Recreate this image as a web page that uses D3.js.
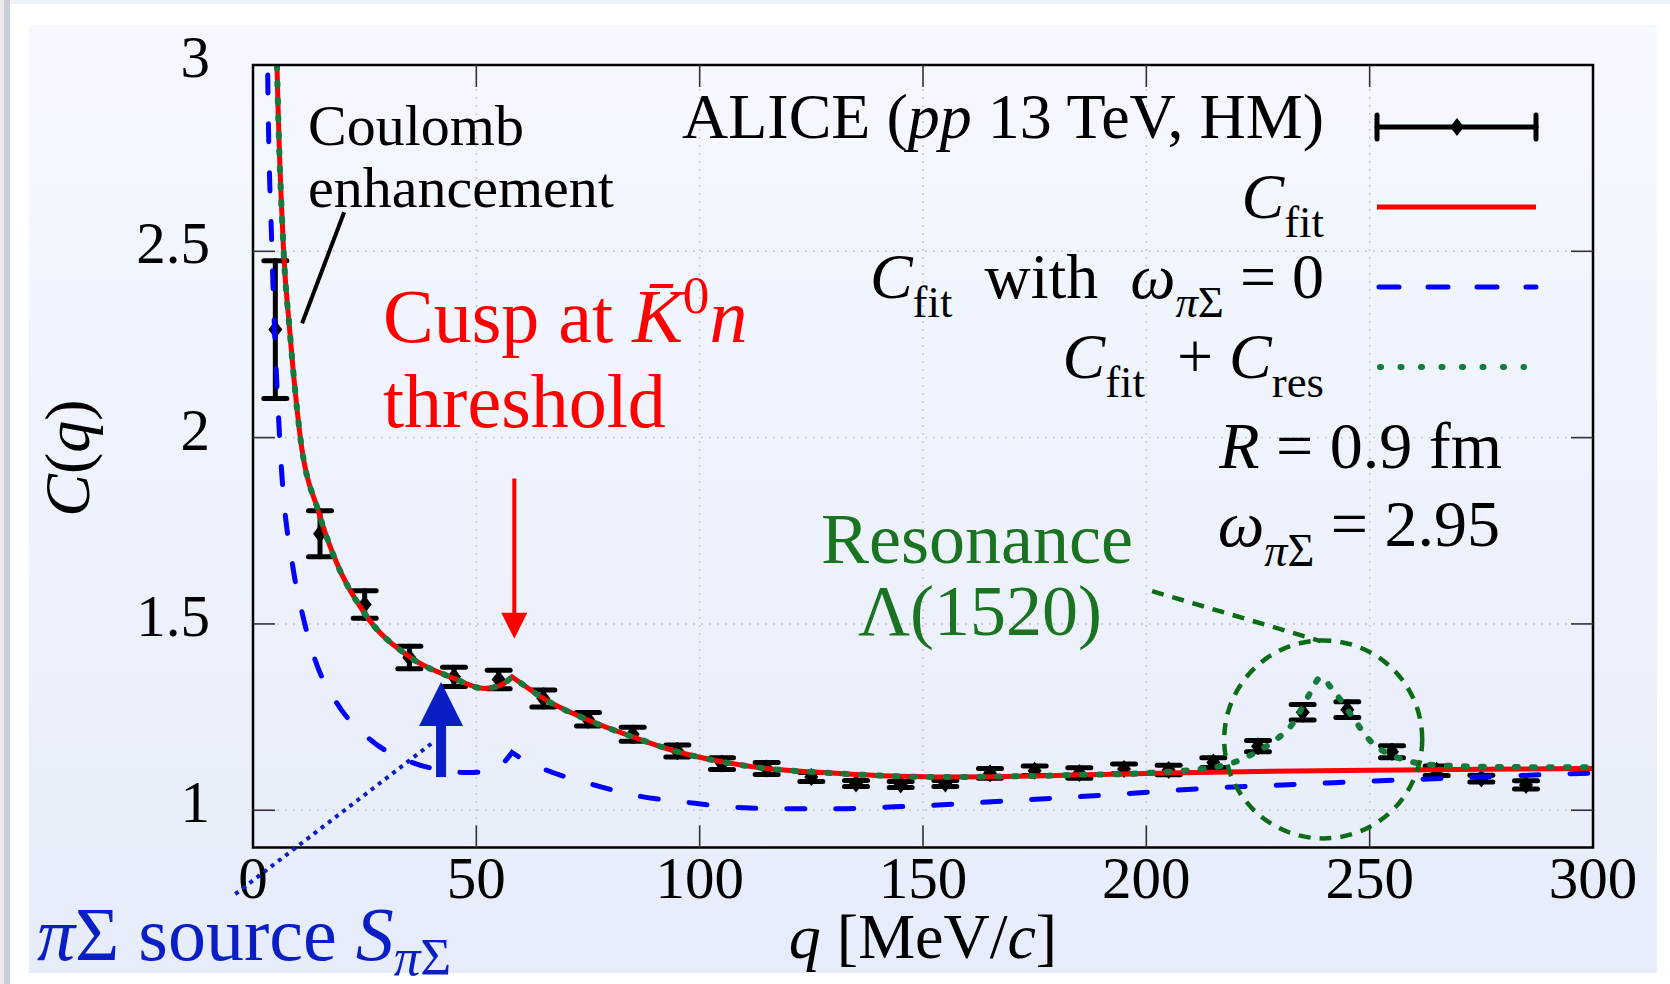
<!DOCTYPE html>
<html>
<head>
<meta charset="utf-8">
<script src="https://cdn.jsdelivr.net/npm/d3@7"></script>
<style>
  html, body { margin: 0; padding: 0; background: #fff; }
  svg { display: block; font-family: "Liberation Serif", "Times New Roman", serif; }
</style>
</head>
<body>
<div id="chart"></div>
<script>
// ALICE K-p correlation, high multiplicity pp 13 TeV
const qBins = [5, 15, 25, 35, 45, 55, 65, 75, 85, 95, 105, 115, 125, 135, 145,
  155, 165, 175, 185, 195, 205, 215, 225, 235, 245, 255, 265, 275, 285];
const cData = [2.29, 1.742, 1.552, 1.41, 1.358, 1.351, 1.30, 1.244, 1.204, 1.159,
  1.125, 1.112, 1.089, 1.072, 1.069, 1.072, 1.099, 1.106, 1.10, 1.111, 1.108,
  1.128, 1.172, 1.263, 1.27, 1.157, 1.106, 1.085, 1.068];
const cErr = [0.185, 0.062, 0.037, 0.030, 0.026, 0.025, 0.023, 0.018, 0.019, 0.016,
  0.016, 0.016, 0.012, 0.008, 0.008, 0.008, 0.013, 0.013, 0.014, 0.013, 0.013,
  0.013, 0.015, 0.021, 0.021, 0.016, 0.013, 0.009, 0.011];

// C_fit (a repeated q marks the cusp corner)
const fitQ = [4.6, 5.37, 6.86, 8.2, 10.6, 14.7, 18, 25, 35, 45, 51.7, 55, 58,
  58, 60, 65, 75, 85, 95, 105, 115, 125, 135, 145, 155, 165, 175, 185, 195,
  205, 215, 225, 250, 275, 300];
const fitC = [3.5, 3.0, 2.5, 2.29, 2.0, 1.80, 1.685, 1.528, 1.412, 1.354, 1.327,
  1.333, 1.358, 1.358, 1.341, 1.30, 1.242, 1.197, 1.157, 1.13, 1.112, 1.103,
  1.096, 1.091, 1.089, 1.09, 1.092, 1.095, 1.097, 1.100, 1.102, 1.104, 1.107,
  1.110, 1.112];

// C_fit with omega_piSigma = 0
const noOmegaQ = [2.9, 3.27, 4.25, 5.96, 9.1, 10.9, 13.8, 18.6, 26, 35.7, 42, 48,
  53, 54.5, 56.3, 58, 58, 61, 65.2, 75.7, 86.4, 97.2, 108, 120, 131, 141, 152,
  163, 173, 184.5, 196, 207, 217, 229, 250, 270, 295, 300];
const noOmegaC = [3.5, 3.0, 2.5, 2.0, 1.64, 1.535, 1.407, 1.291, 1.192, 1.128,
  1.108, 1.101, 1.106, 1.112, 1.13, 1.155, 1.155, 1.133, 1.11, 1.07, 1.038,
  1.021, 1.008, 1.004, 1.004, 1.008, 1.013, 1.021, 1.028, 1.036, 1.045, 1.054,
  1.061, 1.067, 1.078, 1.087, 1.098, 1.10];

// C_fit + C_res above 200 MeV/c (below it follows C_fit)
const resQ = [200, 210, 215, 220, 224, 228, 232.8, 236.6, 239, 241.8, 245.6,
  250, 256.7, 265, 280, 300];
const resC = [1.10, 1.108, 1.115, 1.13, 1.152, 1.181, 1.233, 1.313, 1.356, 1.322,
  1.26, 1.188, 1.139, 1.121, 1.116, 1.115];

const xTicks = [0, 50, 100, 150, 200, 250, 300];
const yTicks = [1, 1.5, 2, 2.5, 3];
const xDomain = [0, 300];
const yDomain = [0.9, 3];

const W = 1670, H = 984;
const box = { left: 253, right: 1593, top: 65, bottom: 847.5 };

const x = d3.scaleLinear().domain(xDomain).range([box.left, box.right]);
const y = d3.scaleLinear().domain(yDomain).range([box.bottom, box.top]);

const RED = "#ff0000", BLUE = "#0000ff", GREEN = "#167a3c";
const DEEPBLUE = "#0a1ec6", DEEPGREEN = "#0c6b14", TEXTGREEN = "#1a7320";

const svg = d3.select("#chart").append("svg")
  .attr("width", W).attr("height", H).attr("viewBox", `0 0 ${W} ${H}`);

const defs = svg.append("defs");
const grad = defs.append("linearGradient").attr("id", "panel")
  .attr("x1", 0).attr("y1", 0).attr("x2", 0).attr("y2", 1);
grad.append("stop").attr("offset", 0).attr("stop-color", "#f5f8fe");
grad.append("stop").attr("offset", 1).attr("stop-color", "#e6ecfa");
defs.append("clipPath").attr("id", "plotclip").append("rect")
  .attr("x", box.left).attr("y", box.top)
  .attr("width", box.right - box.left).attr("height", box.bottom - box.top);

// page framing
svg.append("rect").attr("width", W).attr("height", H).attr("fill", "#fff");
svg.append("rect").attr("width", W).attr("height", 4).attr("fill", "#eef1f6");
svg.append("rect").attr("x", 0).attr("width", 4).attr("height", H).attr("fill", "#e9ebef");
svg.append("rect").attr("x", 4).attr("width", 6).attr("height", H).attr("fill", "#c9ced8");
svg.append("rect").attr("x", 29).attr("y", 25).attr("width", 1628).attr("height", 948)
  .attr("fill", "url(#panel)");

// grid
const grid = svg.append("g").attr("stroke", "#c4c7cc").attr("stroke-width", 1.4)
  .attr("stroke-dasharray", "2 6");
grid.selectAll(".gx").data(xTicks.slice(1, -1)).join("line")
  .attr("x1", d => x(d)).attr("x2", d => x(d))
  .attr("y1", box.top).attr("y2", box.bottom);
grid.selectAll(".gy").data(yTicks.slice(0, -1)).join("line")
  .attr("x1", box.left).attr("x2", box.right)
  .attr("y1", d => y(d)).attr("y2", d => y(d));

// data points
const pts = svg.append("g").attr("clip-path", "url(#plotclip)");
const points = qBins.map((q, i) => ({ q, c: cData[i], e: cErr[i] }));
const errG = pts.selectAll("g.pt").data(points).join("g").attr("class", "pt")
  .attr("stroke", "#000").attr("stroke-width", 5).attr("stroke-linecap", "round");
errG.append("line")
  .attr("x1", d => x(d.q)).attr("x2", d => x(d.q))
  .attr("y1", d => y(d.c + d.e)).attr("y2", d => y(d.c - d.e));
errG.append("line")
  .attr("x1", d => x(d.q) - 11.5).attr("x2", d => x(d.q) + 11.5)
  .attr("y1", d => y(d.c + d.e)).attr("y2", d => y(d.c + d.e));
errG.append("line")
  .attr("x1", d => x(d.q) - 11.5).attr("x2", d => x(d.q) + 11.5)
  .attr("y1", d => y(d.c - d.e)).attr("y2", d => y(d.c - d.e));
errG.append("path").attr("stroke", "none").attr("fill", "#000")
  .attr("d", d => `M${x(d.q)},${y(d.c) - 9}L${x(d.q) + 7},${y(d.c)}L${x(d.q)},${y(d.c) + 9}L${x(d.q) - 7},${y(d.c)}Z`);

// curves
function curvePath(qs, cs) {
  const segs = [[]];
  qs.forEach((q, i) => {
    if (i > 0 && q === qs[i - 1]) segs.push([]);
    segs[segs.length - 1].push([q, cs[i]]);
  });
  const line = d3.line().x(d => x(d[0])).y(d => y(d[1])).curve(d3.curveMonotoneX);
  return segs.map((s, i) => i === 0 ? line(s) : "L" + line(s).slice(1)).join("");
}

const greenQ = fitQ.filter(q => q < resQ[0]).concat(resQ);
const greenC = fitC.filter((c, i) => fitQ[i] < resQ[0]).concat(resC);

const curves = svg.append("g").attr("clip-path", "url(#plotclip)").attr("fill", "none");
curves.append("path").attr("d", curvePath(noOmegaQ, noOmegaC))
  .attr("stroke", BLUE).attr("stroke-width", 5).attr("stroke-dasharray", "18 31")
  .attr("stroke-linecap", "round");
curves.append("path").attr("d", curvePath(fitQ, fitC))
  .attr("stroke", RED).attr("stroke-width", 5).attr("stroke-linejoin", "miter");
curves.append("path").attr("d", curvePath(greenQ, greenC))
  .attr("stroke", GREEN).attr("stroke-width", 6).attr("stroke-dasharray", "3 14")
  .attr("stroke-linecap", "round");

// frame and ticks
svg.append("rect").attr("x", box.left).attr("y", box.top)
  .attr("width", box.right - box.left).attr("height", box.bottom - box.top)
  .attr("fill", "none").attr("stroke", "#000").attr("stroke-width", 2.5);
const ticks = svg.append("g").attr("stroke", "#333").attr("stroke-width", 1.6);
xTicks.slice(1, -1).forEach(t => {
  ticks.append("line").attr("x1", x(t)).attr("x2", x(t)).attr("y1", box.bottom).attr("y2", box.bottom - 22);
  ticks.append("line").attr("x1", x(t)).attr("x2", x(t)).attr("y1", box.top).attr("y2", box.top + 22);
});
yTicks.slice(0, -1).forEach(t => {
  ticks.append("line").attr("x1", box.left).attr("x2", box.left + 22).attr("y1", y(t)).attr("y2", y(t));
  ticks.append("line").attr("x1", box.right).attr("x2", box.right - 22).attr("y1", y(t)).attr("y2", y(t));
});

svg.append("g").selectAll("text").data(xTicks).join("text")
  .attr("x", d => x(d)).attr("y", 898).attr("text-anchor", "middle")
  .attr("font-size", 59).text(d => d);
svg.append("g").selectAll("text").data(yTicks).join("text")
  .attr("x", 210).attr("y", d => y(d) + 12).attr("text-anchor", "end")
  .attr("font-size", 59).text(d => d);

// rich text helper: parts of {t, i (italic), sub, sup}
function rich(parent, parts, size, attrs, subShift = 0.3) {
  const t = parent.append("text").attr("font-size", size);
  Object.entries(attrs).forEach(([k, v]) => t.attr(k, v));
  let shift = 0;
  parts.forEach(p => {
    const ts = t.append("tspan").text(p.t);
    if (p.i) ts.attr("font-style", "italic");
    const want = p.sub ? size * subShift : p.sup ? -size * 0.38 : 0;
    if (want !== shift) { ts.attr("dy", want - shift); shift = want; }
    if (p.sub || p.sup) ts.attr("font-size", size * 0.7);
  });
  return t;
}

// axis titles
rich(svg, [{ t: "q", i: true }, { t: " [MeV/" }, { t: "c", i: true }, { t: "]" }], 64,
  { x: (box.left + box.right) / 2, y: 958, "text-anchor": "middle" });
rich(svg, [{ t: "C", i: true }, { t: "(" }, { t: "q", i: true }, { t: ")" }], 64,
  { transform: "translate(89,458) rotate(-90)", "text-anchor": "middle" });

// legend
const legendRows = [
  { kind: "data", parts: [{ t: "ALICE (" }, { t: "pp", i: true }, { t: " 13 TeV, HM)" }] },
  { kind: "fit", parts: [{ t: "C", i: true }, { t: "fit", sub: true }] },
  { kind: "noOmega", parts: [{ t: "C", i: true }, { t: "fit", sub: true }, { t: "\u2002with\u2002" },
    { t: "ω", i: true }, { t: "π", i: true, sub: true }, { t: "Σ", sub: true }, { t: " = 0" }] },
  { kind: "res", parts: [{ t: "C", i: true }, { t: "fit", sub: true }, { t: "\u2002+ " },
    { t: "C", i: true }, { t: "res", sub: true }] }
];
const leg = svg.append("g");
legendRows.forEach((row, i) => {
  const base = 138 + i * 80, ly = base - 11;
  rich(leg, row.parts, 64, { x: 1324, y: base, "text-anchor": "end" });
  if (row.kind === "data") {
    const g = leg.append("g").attr("stroke", "#000").attr("stroke-width", 5).attr("stroke-linecap", "round");
    g.append("line").attr("x1", 1377).attr("x2", 1536).attr("y1", ly).attr("y2", ly);
    g.append("line").attr("x1", 1377).attr("x2", 1377).attr("y1", ly - 12).attr("y2", ly + 12);
    g.append("line").attr("x1", 1536).attr("x2", 1536).attr("y1", ly - 12).attr("y2", ly + 12);
    g.append("path").attr("stroke", "none").attr("fill", "#000")
      .attr("d", `M1457,${ly - 9}L1464,${ly}L1457,${ly + 9}L1450,${ly}Z`);
  } else if (row.kind === "fit") {
    leg.append("line").attr("x1", 1377).attr("x2", 1536).attr("y1", ly).attr("y2", ly)
      .attr("stroke", RED).attr("stroke-width", 5);
  } else if (row.kind === "noOmega") {
    leg.append("line").attr("x1", 1379).attr("x2", 1536).attr("y1", ly).attr("y2", ly)
      .attr("stroke", BLUE).attr("stroke-width", 5).attr("stroke-dasharray", "20 29")
      .attr("stroke-linecap", "round");
  } else {
    leg.append("line").attr("x1", 1380).attr("x2", 1524).attr("y1", ly).attr("y2", ly)
      .attr("stroke", GREEN).attr("stroke-width", 6).attr("stroke-dasharray", "1 19.5")
      .attr("stroke-linecap", "round");
  }
});

rich(svg, [{ t: "R", i: true }, { t: " = 0.9 fm" }], 66, { x: 1502, y: 468, "text-anchor": "end" });
rich(svg, [{ t: "ω", i: true }, { t: "π", i: true, sub: true }, { t: "Σ", sub: true }, { t: " = 2.95" }], 66,
  { x: 1500, y: 546, "text-anchor": "end" });

// annotations (positions in data units)
const coulombLeader = [[20.4, 2.605], [11.0, 2.307]];
const cuspArrow = { q: 58.5, from: 1.89, to: 1.46 };
const sourceArrow = { q: 42.1, from: 1.089, to: 1.344 };
const sourceLeader = [[-3.97, 0.775], [40.4, 1.183]];
const resCircle = { q: 239.6, c: 1.19, r: 99 };
const resLeader = [[201.3, 1.588], [239, 1.454]];

const ann = svg.append("g");
ann.append("line")
  .attr("x1", x(coulombLeader[0][0])).attr("y1", y(coulombLeader[0][1]))
  .attr("x2", x(coulombLeader[1][0])).attr("y2", y(coulombLeader[1][1]))
  .attr("stroke", "#000").attr("stroke-width", 4);
ann.append("text").attr("x", 308).attr("y", 145).attr("font-size", 58).text("Coulomb");
ann.append("text").attr("x", 308).attr("y", 207).attr("font-size", 58).text("enhancement");

// cusp arrow
const cx0 = x(cuspArrow.q), cyTop = y(cuspArrow.from), cyTip = y(cuspArrow.to);
ann.append("line").attr("x1", cx0).attr("x2", cx0).attr("y1", cyTop).attr("y2", cyTip - 20)
  .attr("stroke", RED).attr("stroke-width", 4);
ann.append("path").attr("fill", RED)
  .attr("d", `M${cx0 - 13},${cyTip - 26}L${cx0 + 13},${cyTip - 26}L${cx0},${cyTip}Z`);
rich(ann, [{ t: "Cusp at " }, { t: "K\u0304", i: true }, { t: "0", sup: true }, { t: "n", i: true }], 76,
  { x: 383, y: 342, fill: RED });
ann.append("text").attr("x", 383).attr("y", 427).attr("font-size", 76).attr("fill", RED).text("threshold");

// source annotation
ann.append("line")
  .attr("x1", x(sourceLeader[0][0])).attr("y1", y(sourceLeader[0][1]))
  .attr("x2", x(sourceLeader[1][0])).attr("y2", y(sourceLeader[1][1]))
  .attr("stroke", DEEPBLUE).attr("stroke-width", 4).attr("stroke-dasharray", "4 5");
const sx = x(sourceArrow.q), syBot = y(sourceArrow.from), syTip = y(sourceArrow.to);
ann.append("rect").attr("x", sx - 5).attr("y", syTip + 40).attr("width", 10).attr("height", syBot - syTip - 40)
  .attr("fill", DEEPBLUE);
ann.append("path").attr("fill", DEEPBLUE)
  .attr("d", `M${sx - 22},${syTip + 44}L${sx + 22},${syTip + 44}L${sx},${syTip}Z`);
rich(ann, [{ t: "π", i: true }, { t: "Σ source " }, { t: "S", i: true },
  { t: "π", i: true, sub: true }, { t: "Σ", sub: true }], 76, { x: 37, y: 960, fill: DEEPBLUE }, 0.2);

// resonance annotation
ann.append("circle").attr("cx", x(resCircle.q)).attr("cy", y(resCircle.c)).attr("r", resCircle.r)
  .attr("fill", "none").attr("stroke", DEEPGREEN).attr("stroke-width", 4.5)
  .attr("stroke-dasharray", "12 9");
ann.append("line")
  .attr("x1", x(resLeader[0][0])).attr("y1", y(resLeader[0][1]))
  .attr("x2", x(resLeader[1][0])).attr("y2", y(resLeader[1][1]))
  .attr("stroke", DEEPGREEN).attr("stroke-width", 4.5).attr("stroke-dasharray", "12 9");
ann.append("text").attr("x", 977).attr("y", 563).attr("font-size", 72).attr("fill", TEXTGREEN)
  .attr("text-anchor", "middle").text("Resonance");
ann.append("text").attr("x", 980).attr("y", 635).attr("font-size", 72).attr("fill", TEXTGREEN)
  .attr("text-anchor", "middle").text("Λ(1520)");
</script>
</body>
</html>
